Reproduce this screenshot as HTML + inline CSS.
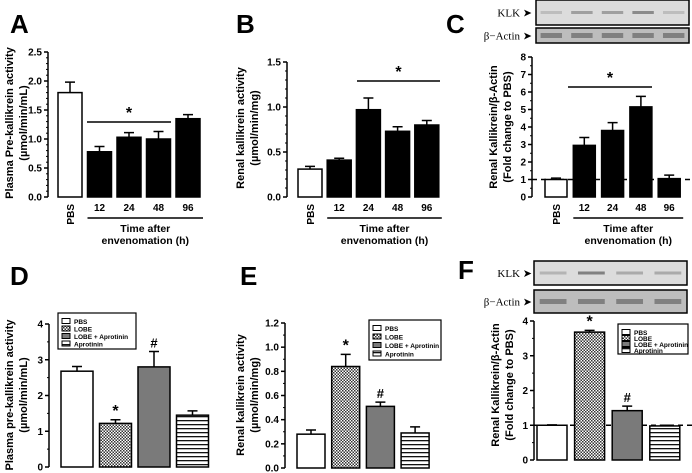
<!DOCTYPE html>
<html><head><meta charset="utf-8"><style>
body{margin:0;background:#fff}
svg{display:block;font-family:"Liberation Sans",sans-serif;font-weight:bold}
</style></head><body>
<svg id="fig" width="692" height="473" viewBox="0 0 692 473">
<defs>
<pattern id="chk" width="3" height="3" patternUnits="userSpaceOnUse"><rect width="3" height="3" fill="#fff"/><rect width="1.5" height="1.5" fill="#333"/><rect x="1.5" y="1.5" width="1.5" height="1.5" fill="#333"/></pattern>
<pattern id="hst" width="4" height="4" patternUnits="userSpaceOnUse"><rect width="4" height="4" fill="#fff"/><rect width="4" height="1.3" fill="#111"/></pattern>
</defs>
</svg>
<script>
// Panel A
const catsA=["PBS","12","24","48","96"];
const valsA=[1.8,0.78,1.03,1.0,1.35];
const errsA=[0.18,0.09,0.08,0.13,0.07];
const ticksA=["0.0","0.5","1.0","1.5","2.0","2.5"];
// Panel B
const catsB=["PBS","12","24","48","96"];
const valsB=[0.31,0.41,0.97,0.73,0.80];
const errsB=[0.03,0.02,0.13,0.05,0.05];
const ticksB=["0.0","0.5","1.0","1.5"];
// Panel C
const catsC=["PBS","12","24","48","96"];
const valsC=[1.0,2.95,3.8,5.15,1.05];
const errsC=[0.08,0.45,0.45,0.6,0.2];
const ticksC=["0","1","2","3","4","5","6","7","8"];
// Panel D
const groups=["PBS","LOBE","LOBE + Aprotinin","Aprotinin"];
const valsD=[2.68,1.22,2.8,1.45];
const errsD=[0.13,0.1,0.43,0.12];
const ticksD=["0","1","2","3","4"];
// Panel E
const valsE=[0.28,0.84,0.51,0.29];
const errsE=[0.035,0.1,0.035,0.05];
const ticksE=["0.0","0.2","0.4","0.6","0.8","1.0","1.2"];
// Panel F
const valsF=[1.0,3.68,1.42,0.98];
const errsF=[0.01,0.05,0.13,0.02];
const ticksF=["0","1","2","3","4"];

const svg=document.getElementById('fig');
const NS="http://www.w3.org/2000/svg";
function mk(tag,attrs,parent,txt){const e=document.createElementNS(NS,tag);for(const k in attrs)e.setAttribute(k,attrs[k]);if(txt!==undefined)e.textContent=txt;(parent||svg).appendChild(e);return e;}
const fills=["#fff","url(#chk)","#7a7a7a","url(#hst)"];

function panel(p){
  const g=mk('g',{});
  
  
  const y=v=>p.y0-(v/p.max)*(p.y0-p.yTop);
  const lbl=mk('text',{x:p.lx,y:p.ly,'font-size':26},g,p.id.toUpperCase());
  
  
  const ax=mk('line',{x1:p.ax,x2:p.ax,y1:p.yTop,y2:p.y0,stroke:'#000','stroke-width':1.5},g);
  
  
  const n=p.ticks.length-1;
  for(let i=0;i<=n;i++){
    const v=p.max*i/n,yy=y(v);
    mk('line',{x1:p.ax-4,x2:p.ax,y1:yy,y2:yy,stroke:'#000','stroke-width':1.5},g);
    if(i<n){for(let k=1;k<p.minor;k++){const ym=y(v+p.max/n*k/p.minor);mk('line',{x1:p.ax-2,x2:p.ax,y1:ym,y2:ym,stroke:'#000','stroke-width':1},g);}}
    const t=mk('text',{x:p.ax-6,y:yy+3.5,'font-size':10,'text-anchor':'end'},g,p.ticks[i]);
    
    
  }
  const tt=mk('text',{transform:`translate(${p.tx},${p.tcy}) rotate(-90)`,'font-size':11,'text-anchor':'middle'},g);
  
  
  mk('tspan',{x:0,y:0},tt,p.t1);
  mk('tspan',{x:0,y:14},tt,p.t2);
  if(p.dash){const d=mk('line',{x1:p.ax,x2:p.dashEnd,y1:y(1),y2:y(1),stroke:'#000','stroke-width':1.5,'stroke-dasharray':'5,4'},g);
    
    }
  p.vals.forEach((v,i)=>{
    const x=p.bx0+i*p.step, top=y(v), et=y(v+p.errs[i]);
    const fill=p.fills?p.fills[i]:(i==0?'#fff':'#000');
    const eb=mk('path',{d:`M${x+p.bw/2},${top}V${et}M${x+p.bw/2-5},${et}H${x+p.bw/2+5}`,stroke:'#000','stroke-width':1.5,fill:'none'},g);
    
    
    const r=mk('rect',{x:x,y:top,width:p.bw,height:p.y0-top,fill:fill,stroke:'#000','stroke-width':1.5},g);
    
    
    if(p.marks&&p.marks[i]){const m=mk('text',{x:x+p.bw/2,y:et-4,'font-size':p.marks[i]=='*'?16:13,'text-anchor':'middle'},g,p.marks[i]);
      
      }
    if(p.cats){
      if(i==0){const t=mk('text',{transform:`translate(${x+p.bw/2+4},${p.y0+7}) rotate(-90)`,'font-size':10,'text-anchor':'end'},g,p.cats[i]);
        
        }
      else{const t=mk('text',{x:x+p.bw/2,y:p.y0+14,'font-size':10,'text-anchor':'middle'},g,p.cats[i]);
        
        }
    }
  });
  if(p.cats){
    const x1=p.bx0+p.step, xe=p.bx0+4*p.step+p.bw+3;
    mk('line',{x1:x1,x2:xe,y1:p.y0+21,y2:p.y0+21,stroke:'#000','stroke-width':1.5},g);
    const cx=(x1+xe)/2;
    const tl=mk('text',{x:cx,y:p.y0+35,'font-size':10.5,'text-anchor':'middle'},g,'Time after');
    
    
    mk('text',{x:cx,y:p.y0+47,'font-size':10.5,'text-anchor':'middle'},g,'envenomation (h)');
    const s=mk('line',{x1:p.sig[0],x2:p.sig[1],y1:p.sig[2],y2:p.sig[2],stroke:'#000','stroke-width':1.5},g);
    
    
    mk('text',{x:(p.sig[0]+p.sig[1])/2,y:p.sig[2]-4,'font-size':16,'text-anchor':'middle'},g,'*');
  }
  if(p.leg){
    const [lx,ly,lw,lh]=p.leg;
    const lg=mk('g',{},g);
    
    
    mk('rect',{x:lx,y:ly,width:lw,height:lh,fill:'#fff',stroke:'#000','stroke-width':1.2},lg);
    groups.forEach((name,i)=>{
      const yy=ly+4+i*(lh-6)/4;
      mk('rect',{x:lx+4,y:yy+1.5,width:8,height:5,fill:fills[i],stroke:'#000','stroke-width':1},lg);
      const t=mk('text',{x:lx+16,y:yy+7,'font-size':6.5},lg,name);
      
      
    });
  }
}
function blot(bx,by,bw,bh,ay,ah,lblX,bands){
  const g=mk('g',{});
  
  
  mk('rect',{x:bx,y:by,width:bw,height:bh,fill:'#dcdcdc',stroke:'#000','stroke-width':1.5},g);
  mk('rect',{x:bx,y:ay,width:bw,height:ah,fill:'#bdbdbd',stroke:'#000','stroke-width':1.5},g);
  const n=bands.length,sw=bw/n;
  bands.forEach((b,i)=>{
    mk('rect',{x:bx+i*sw+sw*0.15,y:by+bh/2-1.5,width:sw*0.7,height:3,fill:'#777',opacity:b},g);
    mk('rect',{x:bx+i*sw+sw*0.15,y:ay+ah/2-2.5,width:sw*0.7,height:5,fill:'#666',opacity:0.7},g);
  });
  mk('text',{x:lblX,y:by+bh/2+4,'font-size':11,'text-anchor':'end','font-family':'Liberation Serif','font-weight':'normal'},g,'KLK ➤');
  mk('text',{x:lblX,y:ay+ah/2+4,'font-size':11,'text-anchor':'end','font-family':'Liberation Serif','font-weight':'normal'},g,'β−Actin ➤');
}
panel({id:'a',lx:10,ly:33,ax:48,yTop:52,y0:197,max:2.5,minor:5,ticks:ticksA,bx0:58,step:29.5,bw:24,vals:valsA,errs:errsA,cats:catsA,sig:[87,171,122],tx:13,tcy:123,t1:'Plasma Pre-kallikrein activity',t2:'(µmol/min/mL)'});
panel({id:'b',lx:236,ly:33,ax:287,yTop:62,y0:197,max:1.5,minor:5,ticks:ticksB,bx0:298,step:29.2,bw:24,vals:valsB,errs:errsB,cats:catsB,sig:[357,440,81],tx:244,tcy:128,t1:'Renal kallikrein activity',t2:'(µmol/min/mg)'});
panel({id:'c',lx:446,ly:33,ax:532,yTop:57,y0:197,max:8,minor:2,ticks:ticksC,bx0:545,step:28.3,bw:22,vals:valsC,errs:errsC,cats:catsC,sig:[568,652,87],dash:true,dashEnd:692,tx:497,tcy:127,t1:'Renal Kallikrein/β-Actin',t2:'(Fold change to PBS)'});
panel({id:'d',lx:10,ly:285,ax:49,yTop:324,y0:467,max:4,minor:2,ticks:ticksD,bx0:61,step:38.5,bw:32,vals:valsD,errs:errsD,fills:fills,marks:['','*','#',''],leg:[58,313,78,36],tx:13,tcy:395,t1:'Plasma pre-kallikrein activity',t2:'(µmol/min/mL)'});
panel({id:'e',lx:240,ly:285,ax:285,yTop:323,y0:468,max:1.2,minor:2,ticks:ticksE,bx0:297,step:34.7,bw:28,vals:valsE,errs:errsE,fills:fills,marks:['','*','#',''],leg:[369,320,72,40],tx:244,tcy:395,t1:'Renal kallikrein activity',t2:'(µmol/min/mg)'});
panel({id:'f',lx:458,ly:279,ax:534,yTop:321,y0:460,max:4,minor:2,ticks:ticksF,bx0:537,step:37.6,bw:30,vals:valsF,errs:errsF,fills:fills,marks:['','*','#',''],dash:true,dashEnd:692,leg:[618,324,70,30],tx:499,tcy:385,t1:'Renal Kallikrein/β-Actin',t2:'(Fold change to PBS)'});
blot(536,0,153,25,28,15,532,[0.3,0.6,0.6,0.8,0.3]);
blot(534,261,153,24,290,23,532,[0.4,0.9,0.5,0.5]);
</script>
</body></html>
